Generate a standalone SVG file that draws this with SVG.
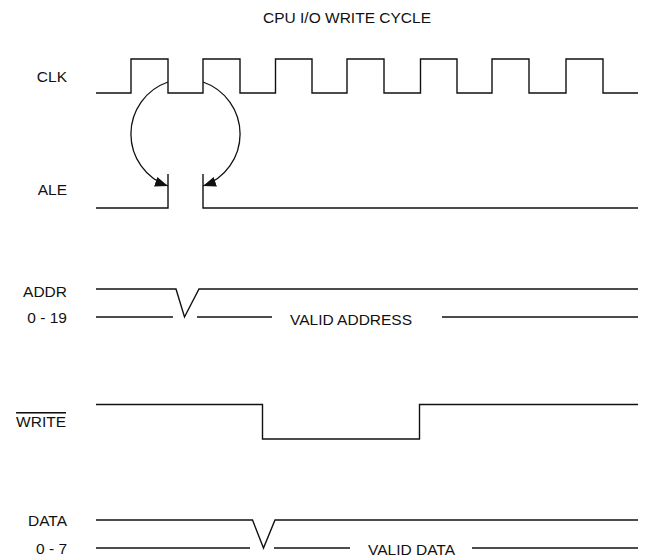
<svg xmlns="http://www.w3.org/2000/svg" width="649" height="558" viewBox="0 0 649 558">
<style>
  text { font-family: "Liberation Sans", Arial, sans-serif; font-size: 15.5px; fill: #111; }
  .lbl { text-anchor: end; }
  .sig { fill: none; stroke: #111; stroke-width: 1.4; stroke-linejoin: miter; }
  .arc { fill: none; stroke: #111; stroke-width: 1.3; }
</style>
<defs>
  <marker id="ah" markerUnits="userSpaceOnUse" markerWidth="14" markerHeight="10" refX="13" refY="5" orient="auto">
    <path d="M0,0 L13,5 L0,10 z" fill="#111"/>
  </marker>
</defs>
<rect width="649" height="558" fill="#fff"/>
<text x="347" y="22.5" text-anchor="middle">CPU I/O WRITE CYCLE</text>

<g id="clk">
  <text class="lbl" x="67" y="82">CLK</text>
  <path class="sig" d="M96,93 H131 V59 H168 V93 H203 V59 H240 V93 H275.5 V59 H312 V93 H347 V59 H384 V93 H420.5 V59 H457 V93 H492 V59 H529 V93 H566 V59 H603 V93 H638"/>
</g>

<g id="ale">
  <text class="lbl" x="67" y="195">ALE</text>
  <path class="sig" d="M96,208 H168 V174"/>
  <path class="sig" d="M203,174 V208 H638"/>
</g>

<g id="addr">
  <text class="lbl" x="67" y="297">ADDR</text>
  <text class="lbl" x="67" y="323">0 - 19</text>
  <path class="sig" d="M96,289 H176 L184.5,317 L199,289 H638"/>
  <path class="sig" d="M96,317 H173"/>
  <path class="sig" d="M197,317 H272"/>
  <text x="290" y="325">VALID ADDRESS</text>
  <path class="sig" d="M442,317 H638"/>
</g>

<g id="write">
  <text class="lbl" x="66" y="427" text-decoration="overline">WRITE</text>
  <path class="sig" d="M96,404.5 H262.5 V439 H419.5 V404.5 H638"/>
</g>

<g id="data">
  <text class="lbl" x="67" y="526">DATA</text>
  <text class="lbl" x="67" y="554">0 - 7</text>
  <path class="sig" d="M96,520 H252.5 L263.5,548 L275,520 H638"/>
  <path class="sig" d="M96,548 H250"/>
  <path class="sig" d="M274,548 H350"/>
  <text x="368" y="555">VALID DATA</text>
  <path class="sig" d="M472,548 H638"/>
</g>

<g id="connectors">
  <path class="arc" d="M168,82 A55,55 0 0,0 168,186" marker-end="url(#ah)"/>
  <path class="arc" d="M203,82 A55,55 0 0,1 203,186" marker-end="url(#ah)"/>
</g>
</svg>
